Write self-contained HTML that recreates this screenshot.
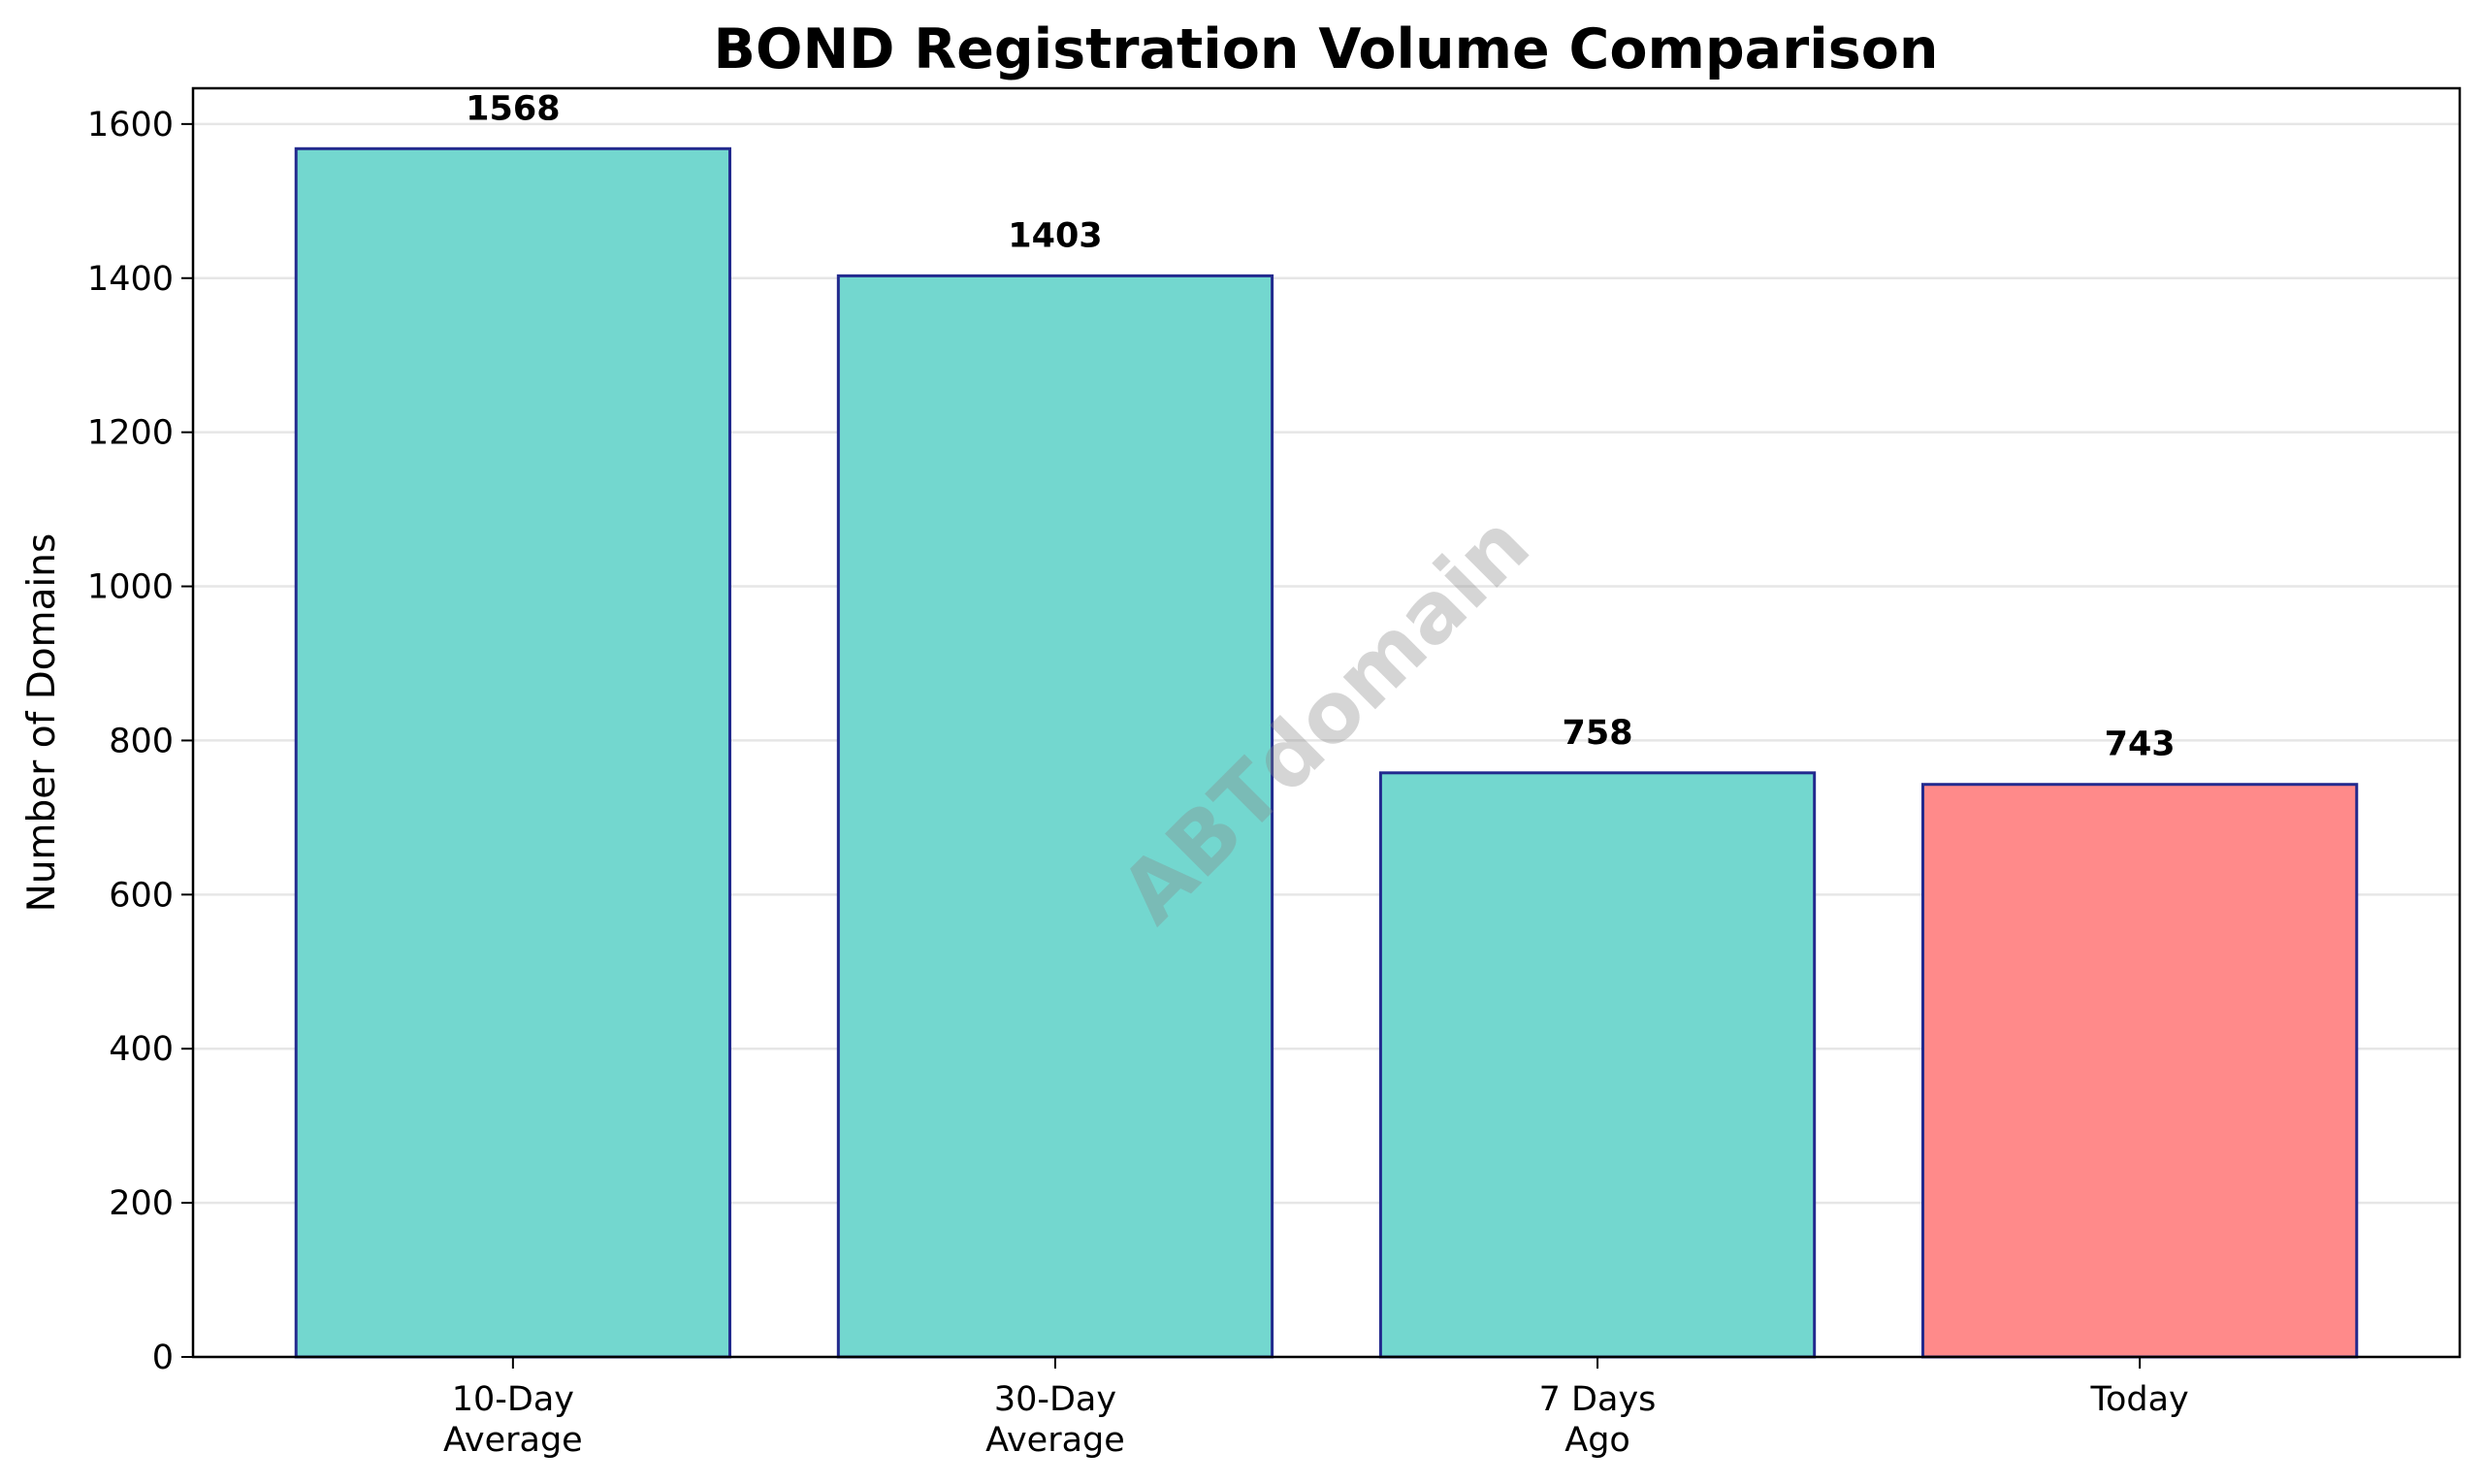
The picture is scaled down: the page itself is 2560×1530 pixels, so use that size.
<!DOCTYPE html>
<html><head><meta charset="utf-8"><style>
html,body{margin:0;padding:0;background:#fff;}
svg{display:block;font-family:"DejaVu Sans","Liberation Sans",sans-serif;}
</style></head><body>
<svg id="chart" width="2560" height="1530" viewBox="0 0 2560 1530" xmlns="http://www.w3.org/2000/svg">
<rect width="2560" height="1530" fill="#fff"/>
<text x="1367" y="70" text-anchor="middle" font-size="57" font-weight="bold">BOND Registration Volume Comparison</text>
<text transform="translate(56,745) rotate(-90)" text-anchor="middle" font-size="39">Number of Domains</text>
<g id="grid"></g>
<g id="bars"></g>
<text x="1368" y="770" transform="rotate(-45 1368 743)" text-anchor="middle" font-size="86" font-weight="bold" fill="#888" fill-opacity="0.35">ABTdomain</text>
<g id="axes"></g>
</svg>
<script>
const categories = [["10-Day","Average"],["30-Day","Average"],["7 Days","Ago"],["Today"]];
const values = [1568, 1403, 758, 743];
const colors = ["#73d7cf","#73d7cf","#73d7cf","#ff8a8a"];
const yTicks = [0,200,400,600,800,1000,1200,1400,1600];

const NS="http://www.w3.org/2000/svg";
const L=199,R=2536,T=91,B=1399;
const yMax=1646.4, xMin=-0.59, xMax=3.59;
const y=v=>B-(v/yMax)*(B-T);
const x=i=>L+(i-xMin)/(xMax-xMin)*(R-L);
const bw=0.8*(R-L)/(xMax-xMin);
function mk(tag,attrs,parent){const e=document.createElementNS(NS,tag);for(const k in attrs)e.setAttribute(k,attrs[k]);parent.appendChild(e);return e;}
const grid=document.getElementById('grid'),bars=document.getElementById('bars'),axes=document.getElementById('axes');
yTicks.forEach(t=>{
  const g=mk('line',{x1:L,x2:R,y1:y(t),y2:y(t),stroke:'#e6e6e6','stroke-width':2.5},grid);
  
  
  const tk=mk('line',{x1:L-12,x2:L,y1:y(t),y2:y(t),stroke:'#000','stroke-width':2},axes);
  
  
  const lb=mk('text',{x:L-20,y:y(t)+12,'text-anchor':'end','font-size':35},axes);
  lb.textContent=t;
  
  
});
values.forEach((v,i)=>{
  const r=mk('rect',{x:x(i)-bw/2,y:y(v),width:bw,height:B-y(v),fill:colors[i],stroke:'#232a8e','stroke-width':3},bars);
  
  
  const vl=mk('text',{x:x(i),y:y(v)-30,'text-anchor':'middle','font-size':35,'font-weight':'bold'},bars);
  vl.textContent=v;
  
  
  const tk=mk('line',{x1:x(i),x2:x(i),y1:B,y2:B+12,stroke:'#000','stroke-width':2},axes);
  
  
  categories[i].forEach((s,j)=>{
    const t=mk('text',{x:x(i),y:B+55+j*42,'text-anchor':'middle','font-size':35},axes);
    t.textContent=s;
    
    
  });
});
const fr=mk('rect',{x:L,y:T,width:R-L,height:B-T,fill:'none',stroke:'#000','stroke-width':2.5},axes);


</script>
</body></html>
